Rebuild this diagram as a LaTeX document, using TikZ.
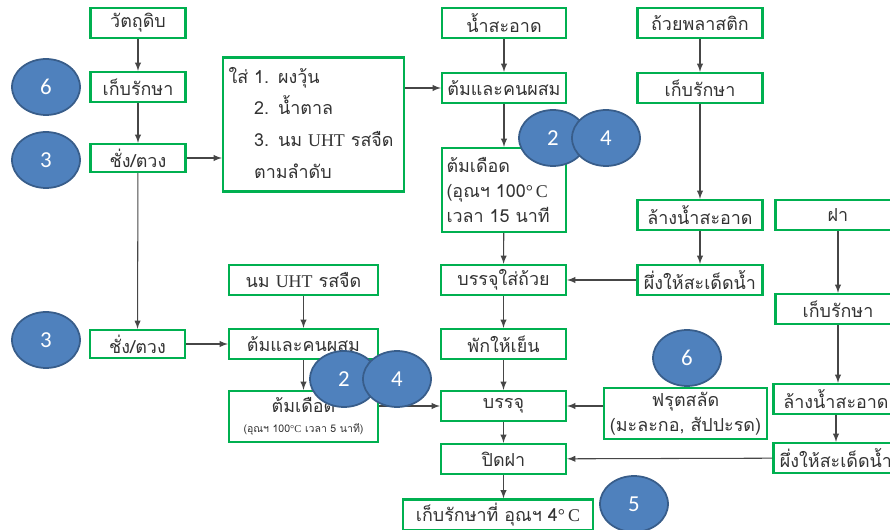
\documentclass[tikz,border=0pt]{standalone}
\usepackage{fontspec}
\setmainfont{Liberation Serif}
\newfontfamily\thaifont[Script=Thai]{Loma}
\newfontfamily\numfont{Carlito}
\usepackage{tikz}
\usetikzlibrary{shapes.geometric}
\definecolor{boxgreen}{RGB}{0,176,80}
\definecolor{circfill}{RGB}{79,129,189}
\definecolor{circline}{RGB}{56,93,138}
\definecolor{linegray}{RGB}{70,70,70}
\newcommand{\lat}[1]{{\rmfamily #1}}

\begin{document}
\begin{tikzpicture}[x=0.02cm,y=-0.02cm,
		box/.style={draw=boxgreen, line width=1.4pt, fill=white, minimum height=0.6cm, inner sep=2pt, text=black!80, font=\thaifont\fontsize{10.2}{14.5}\selectfont},
		num/.style={ellipse, draw=circline, line width=1pt, fill=circfill, text=white, minimum width=1.36cm, minimum height=1.12cm, font=\numfont\fontsize{13}{13}\selectfont},
		arr/.style={-latex, draw=linegray, line width=0.6pt}]
	\useasboundingbox (0,0) rectangle (890,530);
	% left column
	\node[box, minimum width=1.9cm] (raw) at (138,23) {วัตถุดิบ};
	\node[box, minimum width=1.9cm] (store1) at (138,87) {เก็บรักษา};
	\node[box, minimum width=1.9cm, minimum height=0.56cm] (weigh1) at (138,158) {ชั่ง/ตวง};
	\node[box, minimum width=1.9cm, minimum height=0.56cm] (weigh2) at (137.5,344) {ชั่ง/ตวง};
	\node[box, minimum width=3.62cm, minimum height=2.1cm, text width=3.4cm, align=left] (add) at (313.5,124.5)
		{\def\arraystretch{1.25}\begin{tabular}{@{}l@{ }l@{}}ใส่ & 1. ผงวุ้น\\ & 2. น้ำตาล\\ & 3. นม \lat{UHT} รสจืด\\ & ตามลำดับ\end{tabular}};
	% second column
	\node[box, minimum width=2.98cm] (uht) at (303.5,280) {นม \lat{UHT} รสจืด};
	\node[box, minimum width=2.98cm] (mix2) at (303.5,344) {ต้มและคนผสม};
	\node[box, minimum width=2.98cm, minimum height=1.02cm, align=center] (boil2) at (303.5,416.5)
		{ต้มเดือด\\[-3pt]{\fontsize{6}{7}\selectfont (อุณฯ 100\lat{°C} เวลา 5 นาที)}};
	% middle column
	\node[box, minimum width=2.48cm] (water) at (504,23) {น้ำสะอาด};
	\node[box, minimum width=2.48cm] (mix1) at (504,88) {ต้มและคนผสม};
	\node[box, minimum width=2.48cm, minimum height=1.68cm, text width=2.3cm, align=left] (boil1) at (504,190)
		{ต้มเดือด\\(อุณฯ 100\lat{°\,C}\\เวลา 15 นาที};
	\node[box, minimum width=2.5cm] (fill) at (503.5,280) {บรรจุใส่ถ้วย};
	\node[box, minimum width=2.5cm] (cool) at (503.5,344) {พักให้เย็น};
	\node[box, minimum width=2.5cm] (pack) at (503.5,406) {บรรจุ};
	\node[box, minimum width=2.5cm] (close) at (503.5,459) {ปิดฝา};
	\node[box, minimum width=3.8cm, minimum height=0.62cm] (keep) at (498,515) {เก็บรักษาที่ อุณฯ 4\lat{°\,C}};
	% cup column
	\node[box, minimum width=2.5cm] (cup) at (700,23) {ถ้วยพลาสติก};
	\node[box, minimum width=2.5cm] (store2) at (700,88) {เก็บรักษา};
	\node[box, minimum width=2.5cm] (wash1) at (700,215) {ล้างน้ำสะอาด};
	\node[box, minimum width=2.5cm] (drain1) at (700,280) {ผึ่งให้สะเด็ดน้ำ};
	\node[box, minimum width=3.26cm, minimum height=1.02cm, align=center] (fruit) at (685.5,413.5)
		{ฟรุตสลัด\\(มะละกอ, สัปปะรด)};
	% lid column
	\node[box, minimum width=2.5cm] (lid) at (838,215) {ฝา};
	\node[box, minimum width=2.5cm] (store3) at (838,309) {เก็บรักษา};
	\node[box, minimum width=2.5cm] (wash2) at (836,399) {ล้างน้ำสะอาด};
	\node[box, minimum width=2.5cm] (drain2) at (836,458) {ผึ่งให้สะเด็ดน้ำ};

	% arrows
	\draw[arr] (raw) -- (store1);
	\draw[arr] (store1) -- (weigh1);
	\draw[arr] (weigh1.east) -- (weigh1.east -| add.west);
	\draw[arr] (weigh1) -- (weigh2);
	\draw[arr] (mix1.west -| add.east) -- (mix1.west);
	\draw[arr] (water) -- (mix1);
	\draw[arr] (mix1) -- (boil1);
	\draw[arr] (boil1) -- (fill);
	\draw[arr] (fill) -- (cool);
	\draw[arr] (cool) -- (pack);
	\draw[arr] (pack) -- (close);
	\draw[arr] (close.south) -- (close.south |- keep.north);
	\draw[arr] (cup) -- (store2);
	\draw[arr] (store2) -- (wash1);
	\draw[arr] (wash1) -- (drain1);
	\draw[arr] (drain1) -- (fill);
	\draw[arr] (lid) -- (store3);
	\draw[arr] (store3.south) -- (store3.south |- wash2.north);
	\draw[arr] (wash2) -- (drain2);
	\draw[arr] (drain2) -- (close);
	\draw[arr] (weigh2) -- (mix2);
	\draw[arr] (uht) -- (mix2);
	\draw[arr] (mix2) -- (boil2);
	\draw[arr] (pack.west -| boil2.east) -- (pack.west);
	\draw[arr] (pack.east -| fruit.west) -- (pack.east);

	% numbered circles
	\node[num] (n6a) at (46,87) {6};
	\node[num] (n3a) at (46,160) {3};
	\node[num] (n3b) at (46,340) {3};
	\node[num] (n2a) at (553,138) {2};
	\node[num] (n4a) at (606,138) {4};
	\node[num] (n2b) at (344,379) {2};
	\node[num] (n4b) at (397,379) {4};
	\node[num] (n6b) at (687,358) {6};
	\node[num] (n5) at (634,504) {5};
\end{tikzpicture}
\end{document}
